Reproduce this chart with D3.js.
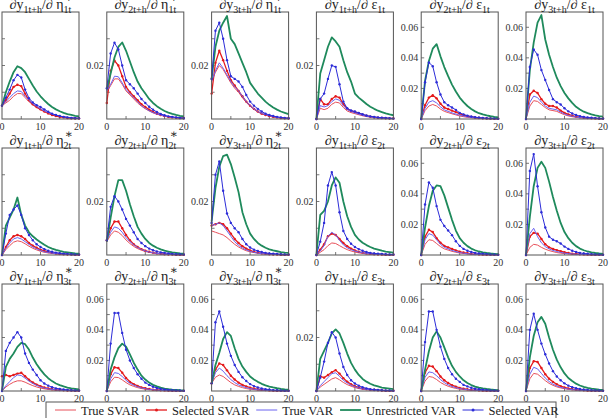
<!DOCTYPE html>
<html lang="en">
<head>
<meta charset="UTF-8">
<title>Impulse responses: SVAR vs VAR</title>
<script src="https://d3js.org/d3.v7.min.js"></script>
<style>
    body { margin: 0; background: #fff; }
    svg { display: block; }
    text { font-family: "Liberation Serif", "DejaVu Serif", serif; }
    .frame { fill: none; stroke: #555; stroke-width: 1; }
    .tick { stroke: #555; stroke-width: 0.8; }
    .tick-label { font-size: 10px; fill: #333; }
    .title { font-size: 14px; fill: #222; }
    .star { font-size: 12px; fill: #222; }
    .legend-text { font-size: 12.5px; fill: #222; }
</style>
</head>
<body>
<div id="chart"></div>
<script>
// horizons h = 0..20, values in units of 1e-3
const horizons = d3.range(0, 21);

// panel titles: rows = shocks, columns = responses
const respIdx = ["1", "2", "3", "1", "2", "3"];
const shockSym = ["η", "η", "η", "ε", "ε", "ε"];
const shockIdx = ["1", "2", "3"];

// y-axis upper limit of each panel (x1e-3), row by row
const yMax = [40, 40, 40, 40, 70, 70,
              40, 40, 40, 40, 70, 70,
              40, 70, 70, 40, 70, 70];

const seriesNames = ["True SVAR", "Selected SVAR", "True VAR", "Unrestricted VAR", "Selected VAR"];

const trueSVAR = [
    [5,6,7,8.5,9.5,9.5,8,6.5,5.3,4.3,3.5,2.8,2.2,1.7,1.3,1,0.8,0.6,0.4,0.3,0.2],
    [10,12.5,15,15,13,10.5,9,7.5,6,4.8,3.8,3,2.3,1.8,1.4,1.1,0.8,0.6,0.5,0.4,0.3],
    [14,17.5,20,18.5,16,13.5,11.5,10,8,6.2,4.8,3.6,2.7,2,1.5,1.1,0.8,0.6,0.4,0.3,0.2],
    [0,4,3.5,4,5.5,6.3,6,4.3,3,2.4,2,1.6,1.2,0.9,0.7,0.5,0.4,0.3,0.2,0.2,0.1],
    [0,5.5,8.5,9.5,8.5,6.5,5,4.2,3.4,2.7,2,1.5,1.1,0.8,0.6,0.4,0.3,0.2,0.2,0.1,0.1],
    [0,8.5,12,11.5,9.5,7.5,6,5.5,5,3.8,2.8,2,1.5,1.1,0.8,0.6,0.4,0.3,0.2,0.2,0.1],
    [0,2,3.5,4.8,5.3,5,4.2,3.3,2.5,1.9,1.4,1,0.8,0.6,0.4,0.3,0.2,0.2,0.1,0.1,0.1],
    [5,7.5,9,8.5,7.3,5.6,4.3,3.2,2.4,1.8,1.3,1,0.7,0.5,0.4,0.3,0.2,0.2,0.1,0.1,0.1],
    [9,8.5,8,7.5,6.5,5.2,4,3,2.2,1.6,1.2,0.9,0.7,0.5,0.4,0.3,0.2,0.2,0.1,0.1,0.1],
    [0,1,2,3.5,4.5,4.3,3.5,2.7,2,1.5,1.1,0.8,0.6,0.4,0.3,0.2,0.2,0.1,0.1,0.1,0.1],
    [0,7,10,9.5,7.5,5.5,4,3.2,2.4,1.8,1.3,1,0.7,0.5,0.4,0.3,0.2,0.2,0.1,0.1,0.1],
    [0,5,7,6.5,5,3.8,2.9,2.2,1.6,1.2,0.9,0.7,0.5,0.4,0.3,0.2,0.2,0.1,0.1,0.1,0.1],
    [0,1.5,2.5,3.3,3.8,3.8,3.3,2.6,2,1.5,1.1,0.8,0.6,0.4,0.3,0.2,0.2,0.1,0.1,0.1,0.1],
    [0,6,9,8.8,7.3,5.5,4,3,2.2,1.6,1.2,0.9,0.6,0.5,0.3,0.2,0.2,0.1,0.1,0.1,0.1],
    [5,9,10.5,9.5,7.5,5.5,4,3,2.2,1.6,1.2,0.9,0.6,0.5,0.3,0.2,0.2,0.1,0.1,0.1,0.1],
    [0,1.5,2.5,3.5,4.5,5,4.2,3.2,2.4,1.8,1.3,0.9,0.7,0.5,0.4,0.3,0.2,0.1,0.1,0.1,0.1],
    [0,6.5,9.5,9,7.5,5.6,4.2,3.1,2.3,1.7,1.2,0.9,0.7,0.5,0.4,0.3,0.2,0.1,0.1,0.1,0.1],
    [0,8,11.5,11,9,6.8,5,3.7,2.7,2,1.5,1.1,0.8,0.6,0.4,0.3,0.2,0.2,0.1,0.1,0.1]
];

const selectedSVAR = [
    [5,7,9.5,12,12.8,12.3,9.5,7,5.5,4.5,3.6,2.8,2.1,1.5,1.1,0.8,0.6,0.4,0.3,0.2,0.2],
    [6,18,21.8,20,16,12,10,8.5,7,5.5,4.5,3.5,2.7,2,1.5,1.1,0.8,0.6,0.5,0.4,0.3],
    [9.5,21,25.5,22,18,14.5,12.5,10.5,8.5,6.5,5,3.8,2.8,2,1.5,1.1,0.8,0.6,0.4,0.3,0.2],
    [0,7.5,5.5,5.5,7.5,8.5,8,5.5,3.8,3,2.6,2.1,1.6,1.2,0.9,0.7,0.5,0.4,0.3,0.2,0.2],
    [0,9,14,15.5,13.5,10,7.5,6.5,5.5,4.5,3.5,2.6,1.9,1.4,1,0.7,0.5,0.4,0.3,0.2,0.1],
    [0,16,18.5,17,13,10,8.5,8.5,7.5,5.5,4,3,2.2,1.6,1.2,0.9,0.7,0.5,0.4,0.3,0.2],
    [0,3,5.5,7,7.5,7,6,4.5,3.5,2.7,2,1.5,1.1,0.8,0.6,0.4,0.3,0.2,0.2,0.1,0.1],
    [5.5,10,12.5,12.5,10,7.5,5.5,4,3,2.2,1.6,1.2,0.9,0.6,0.5,0.3,0.2,0.2,0.1,0.1,0.1],
    [11,11.5,12,11.5,10,8,6,4.5,3.3,2.4,1.7,1.2,0.9,0.6,0.5,0.3,0.2,0.2,0.1,0.1,0.1],
    [0,2,4,7,8,7.5,6,4.5,3.3,2.4,1.7,1.2,0.9,0.6,0.5,0.3,0.2,0.2,0.1,0.1,0.1],
    [0,12,16.5,15,11,8,6,5,4,3,2.2,1.6,1.2,0.8,0.6,0.4,0.3,0.2,0.2,0.1,0.1],
    [0,12,14.5,14,10.5,7,5,4,3.2,2.5,1.8,1.3,0.9,0.7,0.5,0.4,0.3,0.2,0.1,0.1,0.1],
    [5.5,6,5.5,6,6.5,6.8,5.5,4.2,3.2,2.4,1.8,1.3,1,0.7,0.5,0.4,0.3,0.2,0.2,0.1,0.1],
    [0,11,15.5,15,12,8.5,6,4.5,3.3,2.4,1.8,1.3,0.9,0.7,0.5,0.4,0.3,0.2,0.1,0.1,0.1],
    [5,14,18,17,13.5,10,7.5,5.5,4,3,2.2,1.6,1.1,0.8,0.6,0.4,0.3,0.2,0.2,0.1,0.1],
    [0,5.5,5,6,7,7.8,6.5,4.8,3.5,2.5,1.8,1.3,0.9,0.7,0.5,0.4,0.3,0.2,0.1,0.1,0.1],
    [0,12,16.5,16,13,9.5,7,5.2,3.8,2.8,2,1.5,1.1,0.8,0.6,0.4,0.3,0.2,0.2,0.1,0.1],
    [0,15,19.5,19,15,11,8,6,4.4,3.2,2.3,1.7,1.2,0.9,0.6,0.5,0.3,0.2,0.2,0.1,0.1]
];

const trueVAR = [
    [5,6.5,8,9.5,10.5,10.3,8.5,7,5.7,4.7,3.8,3,2.4,1.8,1.4,1.1,0.8,0.6,0.5,0.3,0.2],
    [10.5,13,16,15.8,13.5,11,9.5,8,6.5,5,4,3.1,2.4,1.9,1.5,1.1,0.9,0.7,0.5,0.4,0.3],
    [14,18,21,19,16.5,14,12,10.5,8.5,6.5,5,3.8,2.8,2.1,1.6,1.2,0.9,0.6,0.5,0.3,0.2],
    [0,5,4.5,5,6.5,7.5,7,5,3.5,2.8,2.3,1.8,1.4,1,0.8,0.6,0.4,0.3,0.2,0.2,0.1],
    [0,7,11,12,10.5,8,6,5,4,3.2,2.5,1.9,1.4,1,0.8,0.6,0.4,0.3,0.2,0.2,0.1],
    [0,11,15,14,11,8.5,7,6.5,6,4.5,3.3,2.4,1.8,1.3,0.9,0.7,0.5,0.4,0.3,0.2,0.1],
    [0,2.5,4.5,6,6.5,6,5,4,3,2.3,1.7,1.2,0.9,0.7,0.5,0.4,0.3,0.2,0.1,0.1,0.1],
    [5.5,8.5,10.5,10,8.5,6.5,5,3.8,2.8,2.1,1.5,1.1,0.8,0.6,0.4,0.3,0.2,0.2,0.1,0.1,0.1],
    [11,11.5,12,11,9,7,5,3.6,2.6,1.9,1.4,1,0.7,0.5,0.4,0.3,0.2,0.2,0.1,0.1,0.1],
    [0,1.5,3.5,7,8.5,7.5,5.5,3.8,2.7,2,1.5,1.1,0.8,0.6,0.4,0.3,0.2,0.2,0.1,0.1,0.1],
    [0,10,14,13,10,7,5,4,3,2.2,1.6,1.2,0.9,0.6,0.5,0.3,0.2,0.2,0.1,0.1,0.1],
    [0,14,17.5,12,8,5.5,4,3,2.3,1.7,1.2,0.9,0.7,0.5,0.4,0.3,0.2,0.1,0.1,0.1,0.1],
    [0,2,3.5,5,6,5.8,4.8,3.7,2.8,2.1,1.5,1.1,0.8,0.6,0.4,0.3,0.2,0.2,0.1,0.1,0.1],
    [0,8,12,11.5,9.5,7,5,3.8,2.8,2,1.5,1.1,0.8,0.6,0.4,0.3,0.2,0.2,0.1,0.1,0.1],
    [5,12,15,13,10,7.5,5.5,4,3,2.2,1.6,1.2,0.8,0.6,0.4,0.3,0.2,0.2,0.1,0.1,0.1],
    [0,2,3.5,5,6.5,6.8,5.5,4,3,2.2,1.6,1.1,0.8,0.6,0.4,0.3,0.2,0.2,0.1,0.1,0.1],
    [0,9,12.5,12,10,7.5,5.5,4,3,2.2,1.6,1.2,0.9,0.6,0.5,0.3,0.2,0.2,0.1,0.1,0.1],
    [0,11,15.5,14.5,11.5,8.5,6.2,4.5,3.3,2.4,1.8,1.3,0.9,0.7,0.5,0.4,0.3,0.2,0.1,0.1,0.1]
];

const unrestrictedVAR = [
    [5,10,14,17.5,19.7,19,17.5,15,12.5,10.3,8.5,7,5.6,4.5,3.6,2.9,2.3,1.8,1.5,1.2,1],
    [11,17,23,27,28.6,25.5,21.5,17.5,14,11.5,9.5,7.5,6,4.8,3.8,3,2.4,1.9,1.5,1.2,1],
    [15,27,33,36,38.5,30,28,24.5,21,17.5,13.5,11.5,9.5,8,6.5,5.3,4.3,3.5,2.8,2.3,1.8],
    [0,17,22,27,30.5,29,27,22,17.5,14,9.5,8,6.8,5.6,4.6,3.8,3.1,2.6,2.1,1.7,1.4],
    [0,25,38,46,49,41,34,28,22.5,18,14,11,8.5,6.5,5,3.8,3,2.3,1.8,1.4,1.1],
    [0,32,50,63,68,52,42,34,27,21.5,17,13.5,10.5,8,6.2,4.8,3.8,3,2.4,1.9,1.5],
    [0,11,14,17,21.5,15,11,8.5,7,5.8,4.8,3.8,3,2.4,1.9,1.5,1.2,1,0.8,0.6,0.5],
    [5,14,22,28,28,24,19,14.5,10.5,8,6,4.5,3.5,2.7,2.1,1.6,1.3,1,0.8,0.6,0.5],
    [12.5,25,33,37,37.5,34,29,23.5,16,11.5,8,6,4.5,3.5,2.7,2.1,1.7,1.4,1.1,0.9,0.8],
    [0,15,16.5,20,26,29,27,20,14.5,10.5,7.5,5.8,4.6,3.7,3,2.4,2,1.6,1.3,1.1,0.9],
    [0,18,32,42,45.5,45,39,31,23,16,11,8,5.8,4.2,3.1,2.3,1.7,1.3,1,0.8,0.6],
    [0,25,45,57,61,57,48,38,29,21,15,11,8,5.8,4.2,3.1,2.3,1.7,1.3,1,0.8],
    [0,9,12,14,16.5,18,17.5,15.5,12.5,10,8,6.2,4.8,3.7,2.8,2.2,1.7,1.3,1,0.8,0.6],
    [0,14,22,28,31,29,24,18.5,14,10,7.5,5.5,4,3,2.2,1.6,1.2,0.9,0.7,0.5,0.4],
    [5,17,25,34,38.5,36,28,21,16,12.5,9.5,7.5,6,4.7,3.7,2.9,2.3,1.8,1.4,1.1,0.9],
    [0,12,15,18,21.5,23,21.5,18,14,10.5,8,6,4.5,3.5,2.7,2.1,1.7,1.3,1.1,0.9,0.7],
    [0,14,26,35,39,35,28.5,22,16.5,12.5,9.5,7,5.2,3.9,2.9,2.2,1.7,1.3,1,0.8,0.6],
    [0,22,36,45,48.5,44,35,27,20.5,15.5,11.5,8.5,6.5,4.8,3.6,2.7,2,1.5,1.2,0.9,0.7]
];

const selectedVAR = [
    [5,8,11,14.5,16.5,15.5,11,7.8,6.2,5.2,4.5,3.6,2.7,2,1.5,1.1,0.8,0.6,0.4,0.3,0.3],
    [11.5,24.5,28.5,26,20,14.5,13,11.5,9.5,7.5,6,4.6,3.5,2.6,1.9,1.4,1,0.8,0.6,0.4,0.3],
    [15,33,36,30,22,16,15,14,12,9,6.5,5,3.8,2.8,2,1.5,1.1,0.8,0.6,0.4,0.3],
    [0,7.5,9.5,15,20,19.5,13,6.5,4,3.2,2.8,2.3,1.8,1.3,1,0.8,0.6,0.5,0.4,0.3,0.2],
    [0,24,37,34.5,24,16,11,9,7.5,6,4,3,2.2,1.6,1.2,0.9,0.7,0.5,0.4,0.3,0.2],
    [0,34,45.5,42,32,25.5,19,13,11,9.5,7,5,3.6,2.6,1.9,1.4,1,0.8,0.6,0.4,0.3],
    [0,8,15,17,18.5,15,10,7.5,5.5,4,3,2.2,1.6,1.2,0.9,0.7,0.5,0.4,0.3,0.2,0.2],
    [5.5,18,22,20,17,13.5,11,8.5,6,4.5,3.3,2.4,1.8,1.3,1,0.8,0.6,0.4,0.3,0.3,0.2],
    [12,30,35,24,15.5,12,10,8.5,6,4,2.8,2,1.5,1.1,0.8,0.6,0.5,0.4,0.3,0.2,0.2],
    [0,5,12,26,31,26,16,9,6,4.2,3,2.2,1.6,1.1,0.8,0.6,0.5,0.4,0.3,0.2,0.2],
    [0,33,47.5,44,32,23,19,16,13,9,6,4,2.8,2,1.4,1,0.8,0.6,0.4,0.3,0.2],
    [0,55,66,45,28,18,12,10,9,7.5,5.5,4,2.8,2,1.4,1,0.8,0.6,0.4,0.3,0.2],
    [0,15,18,20,22,20,14,10.5,8,6,4,2.8,2,1.4,1,0.8,0.6,0.4,0.3,0.2,0.2],
    [0,31,51,51,38,27,20,15,11,8,5.5,4,2.8,2,1.4,1,0.7,0.5,0.4,0.3,0.2],
    [5,45,52,42,31,23,17,12.5,9,6.5,4.5,3.2,2.3,1.6,1.2,0.9,0.6,0.5,0.3,0.2,0.2],
    [0,5,11,18,22,20,14,9,6,4,2.8,2,1.4,1,0.7,0.5,0.4,0.3,0.2,0.2,0.1],
    [0,32,52,52,40,29,21,15,11,8,6,4,3,2.1,1.5,1.1,0.8,0.6,0.4,0.3,0.2],
    [0,40,50.5,40,31,24,18,13,9.5,7,5,3.5,2.5,1.8,1.3,0.9,0.7,0.5,0.4,0.3,0.2]
];

// series styling, in legend order
const series = [
    { name: seriesNames[0], data: trueSVAR,        color: "#e8505a", width: 1,   dots: false },
    { name: seriesNames[1], data: selectedSVAR,    color: "#e41a1c", width: 1.3, dots: true  },
    { name: seriesNames[2], data: trueVAR,         color: "#6a62f0", width: 1,   dots: false },
    { name: seriesNames[3], data: unrestrictedVAR, color: "#1f8a5c", width: 1.8, dots: false },
    { name: seriesNames[4], data: selectedVAR,     color: "#2c2cd8", width: 1,   dots: true  }
];

const width = 610, height = 418;
const panelW = 77, panelH = 107;
const colX = d3.range(6).map(i => 2 + i * 104.8);
const rowY = d3.range(3).map(j => 12 + j * 136);

const svg = d3.select("#chart").append("svg")
    .attr("width", width)
    .attr("height", height);

const x = d3.scaleLinear().domain([0, 20]).range([0, panelW]);

for (let r = 0; r < 3; r++) {
    for (let c = 0; c < 6; c++) {
        const p = r * 6 + c;
        const g = svg.append("g").attr("transform", `translate(${colX[c]},${rowY[r]})`);
        const y = d3.scaleLinear().domain([0, yMax[p]]).range([panelH, 0]);

        // inward ticks
        const yTicks = d3.range(10, yMax[p], 10);
        g.selectAll(".ytick").data(yTicks).enter().append("line")
            .attr("class", "tick")
            .attr("x1", 0).attr("x2", 3)
            .attr("y1", d => y(d)).attr("y2", d => y(d));
        g.selectAll(".xtick").data([5, 10, 15]).enter().append("line")
            .attr("class", "tick")
            .attr("x1", d => x(d)).attr("x2", d => x(d))
            .attr("y1", panelH).attr("y2", panelH - 3);

        g.selectAll(".ylab").data(yTicks.filter(d => d % 20 === 0)).enter().append("text")
            .attr("class", "tick-label")
            .attr("x", -3)
            .attr("y", d => y(d) + 3.5)
            .attr("text-anchor", "end")
            .text(d => (d / 1000).toFixed(2));
        g.selectAll(".xlab").data([0, 10, 20]).enter().append("text")
            .attr("class", "tick-label")
            .attr("x", d => x(d))
            .attr("y", panelH + 11)
            .attr("text-anchor", "middle")
            .text(d => d);

        // lines
        series.forEach(s => {
            const vals = s.data[p];
            const line = d3.line()
                .x((d, i) => x(horizons[i]))
                .y(d => y(d));
            g.append("path")
                .attr("d", line(vals))
                .attr("fill", "none")
                .attr("stroke", s.color)
                .attr("stroke-width", s.width)
                .attr("stroke-linejoin", "round");
            if (s.dots) {
                g.selectAll(null).data(vals).enter().append("circle")
                    .attr("cx", (d, i) => x(horizons[i]))
                    .attr("cy", d => y(d))
                    .attr("r", 1.2)
                    .attr("fill", s.color);
            }
        });

        g.append("rect").attr("class", "frame")
            .attr("width", panelW).attr("height", panelH);

        // title
        const t = g.append("text").attr("class", "title")
            .attr("x", panelW / 2).attr("y", -3)
            .attr("text-anchor", "middle");
        t.append("tspan").text("∂y");
        t.append("tspan").attr("font-size", 10).attr("dy", 4).text(respIdx[c] + "t+h");
        t.append("tspan").attr("dy", -4).text("/∂ " + shockSym[c]);
        t.append("tspan").attr("font-size", 10).attr("dy", 4).text(shockIdx[r] + "t");
        if (shockSym[c] === "η") {
            // superscript star sits over the shock subscript
            const full = t.text();
            const pos = t.node().getStartPositionOfChar(full.length - 2);
            g.append("text").attr("class", "star")
                .attr("x", pos.x + 1)
                .attr("y", -10)
                .text("\u2217");
        }
    }
}

// legend
const legend = svg.append("g");
legend.append("rect")
    .attr("x", 46).attr("y", 402)
    .attr("width", 510).attr("height", 24)
    .attr("fill", "#fff")
    .attr("stroke", "#555");
let lx = 55;
series.forEach(s => {
    legend.append("line")
        .attr("x1", lx).attr("x2", lx + 21)
        .attr("y1", 410).attr("y2", 410)
        .attr("stroke", s.color)
        .attr("stroke-width", s.width);
    if (s.dots) {
        legend.append("circle").attr("cx", lx + 10.5).attr("cy", 410).attr("r", 1.5).attr("fill", s.color);
    }
    const txt = legend.append("text").attr("class", "legend-text")
        .attr("x", lx + 26).attr("y", 414.5)
        .text(s.name);
    lx += 26 + txt.node().getComputedTextLength() + 7;
});
</script>
</body>
</html>
